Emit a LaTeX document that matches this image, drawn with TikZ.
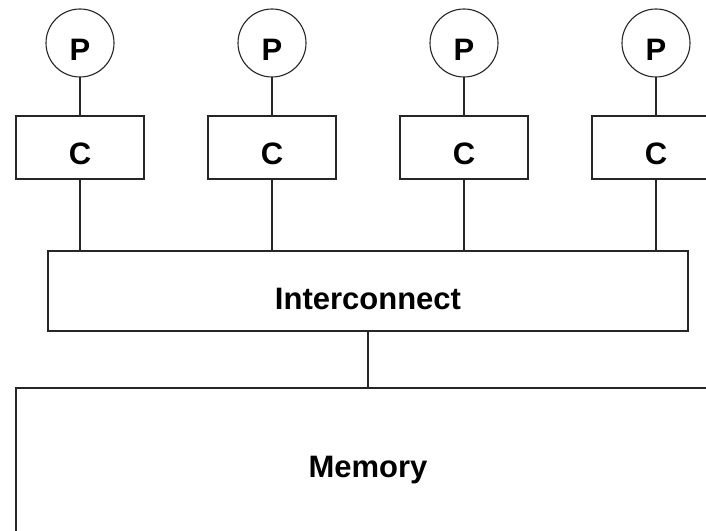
\documentclass[tikz,border=0pt]{standalone}
\usepackage{fontspec}
\setmainfont{Liberation Sans}
\begin{document}
\begin{tikzpicture}[x=1pt,y=-1pt,
  box/.style={draw=black!85, line width=1.1pt, inner sep=0pt, outer sep=0pt, fill=white},
  proc/.style={box, circle, minimum size=68pt},
  cache/.style={box, rectangle, minimum width=128pt, minimum height=63pt},
  lbl/.style={font=\fontsize{31}{36}\selectfont\bfseries, inner sep=0pt, anchor=base},
  wire/.style={draw=black!85, line width=1.1pt}]
\useasboundingbox (0,0) rectangle (706,530);
\fill[white] (0,0) rectangle (706,530);
\clip (0,0) rectangle (706,530);
\node[box, rectangle, minimum width=640pt, minimum height=80pt] (ic) at (368,291) {};
\node[lbl] (icl) at (368,309) {Interconnect};
\node[box, rectangle, minimum width=704pt, minimum height=160pt] (mem) at (368,468) {};
\node[lbl] (meml) at (368,477) {Memory};
\draw[wire] (ic.south) -- (mem.north);
\foreach \i/\x in {1/80,2/272,3/464,4/656}{
  \node[proc] (p\i) at (\x,43) {};
  \node[lbl] (pl\i) at (\x,60) {P};
  \node[cache] (c\i) at (\x,147.5) {};
  \node[lbl] (cl\i) at (\x,164) {C};
  \draw[wire] (p\i.south) -- (c\i.north);
  \draw[wire] (c\i.south) -- (c\i.south |- ic.north);
}
\end{tikzpicture}
\end{document}
